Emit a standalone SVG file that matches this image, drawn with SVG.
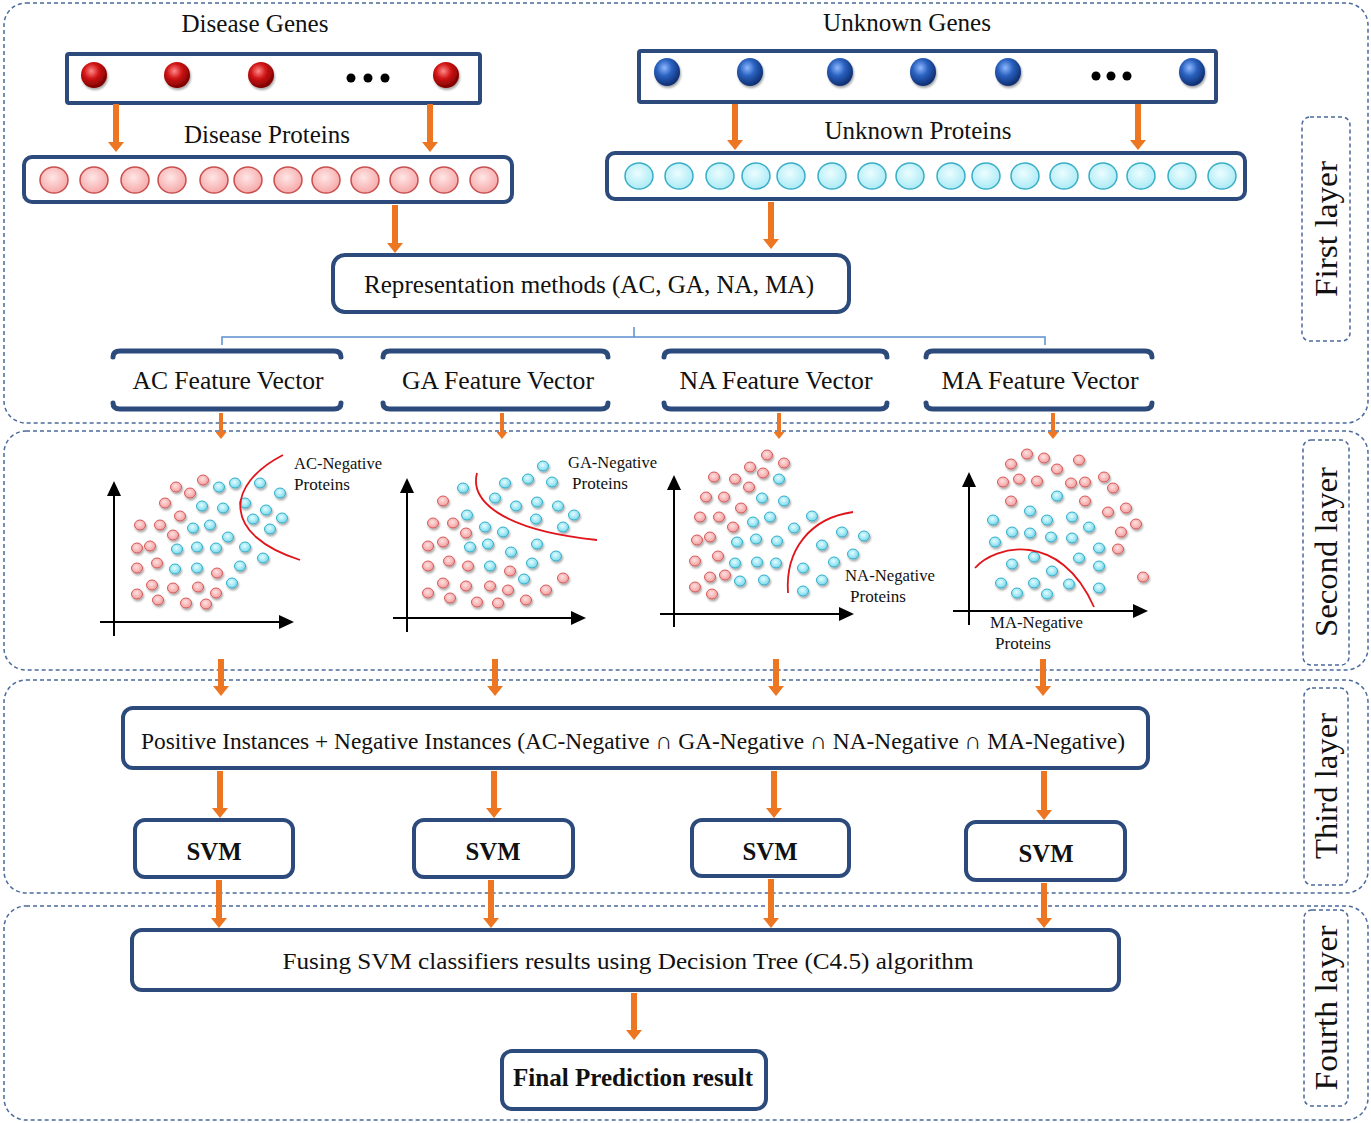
<svg xmlns="http://www.w3.org/2000/svg" width="1371" height="1123" viewBox="0 0 1371 1123">
<style>
text{font-family:"Liberation Serif","Times New Roman",serif;fill:#111}
.lay{fill:none;stroke:#4a6a9c;stroke-width:1.5;stroke-dasharray:4 3}
.box{fill:#fff;stroke:#2c4a7c;stroke-width:4}
.bar{fill:none;stroke:#2c4a7c;stroke-width:5;stroke-linecap:round}
.arr{stroke:#ec7622;stroke-width:6;fill:none}
.arrs{stroke:#ec7622;stroke-width:4;fill:none}
.ax{stroke:#000;stroke-width:2;fill:none}
.r{fill:url(#gr);stroke:#d65a5a;stroke-width:1}
.b{fill:url(#gb);stroke:#33afc9;stroke-width:1}
.pr{fill:url(#gpr);stroke:#c94f4f;stroke-width:1.5}
.pb{fill:url(#gpb);stroke:#3aaec6;stroke-width:1.5}
.cut{fill:none;stroke:#e0151b;stroke-width:1.8}
.lbl{font-size:17px}
.big{font-size:25px}
.fv{font-size:26px}
.bold{font-weight:bold}
.side{font-size:31px}
</style>
<defs>
<radialGradient id="gredball" cx="0.4" cy="0.35" r="0.65"><stop offset="0" stop-color="#ff8a8a"/><stop offset="0.45" stop-color="#d01414"/><stop offset="1" stop-color="#7a0000"/></radialGradient>
<radialGradient id="gblueball" cx="0.4" cy="0.35" r="0.65"><stop offset="0" stop-color="#8fb8ff"/><stop offset="0.45" stop-color="#2a62c0"/><stop offset="1" stop-color="#0e2e70"/></radialGradient>
<radialGradient id="gr" cx="0.45" cy="0.4" r="0.6"><stop offset="0" stop-color="#fde2e2"/><stop offset="1" stop-color="#f39c9c"/></radialGradient>
<radialGradient id="gb" cx="0.45" cy="0.4" r="0.6"><stop offset="0" stop-color="#e6fdff"/><stop offset="1" stop-color="#74d8ec"/></radialGradient>
<radialGradient id="gpr" cx="0.45" cy="0.4" r="0.65"><stop offset="0" stop-color="#ffe6e6"/><stop offset="1" stop-color="#f5a3a3"/></radialGradient>
<radialGradient id="gpb" cx="0.45" cy="0.4" r="0.65"><stop offset="0" stop-color="#ecfdff"/><stop offset="1" stop-color="#a6e9f5"/></radialGradient>
<filter id="sh" x="-50%" y="-50%" width="200%" height="200%"><feDropShadow dx="1" dy="2" stdDeviation="1.2" flood-color="#000" flood-opacity="0.35"/></filter>
<marker id="ah" markerUnits="userSpaceOnUse" markerWidth="10" markerHeight="16" refX="0" refY="8" orient="auto" viewBox="0 0 10 16"><path d="M0 0 L10 8 L0 16 Z" fill="#ec7622"/></marker>
<marker id="ahs" markerUnits="userSpaceOnUse" markerWidth="7" markerHeight="11" refX="0" refY="5.5" orient="auto" viewBox="0 0 7 11"><path d="M0 0 L7 5.5 L0 11 Z" fill="#ec7622"/></marker>
</defs>
<rect width="1371" height="1123" fill="#fff"/>

<g id="layers">
<rect class="lay" x="4" y="3" width="1364" height="420" rx="22"/>
<rect class="lay" x="4" y="431" width="1364" height="239" rx="22"/>
<rect class="lay" x="4" y="680" width="1364" height="213" rx="22"/>
<rect class="lay" x="4" y="906" width="1364" height="214" rx="22"/>
</g>

<g id="layer-labels">
<g id="label-first"><rect class="lay" x="1302" y="117" width="48" height="224" rx="8"/><text class="side" transform="translate(1337 229) rotate(-90)" text-anchor="middle" textLength="136" lengthAdjust="spacingAndGlyphs">First layer</text></g>
<g id="label-second"><rect class="lay" x="1303" y="440" width="46" height="225" rx="8"/><text class="side" transform="translate(1337 552) rotate(-90)" text-anchor="middle" textLength="170" lengthAdjust="spacingAndGlyphs">Second layer</text></g>
<g id="label-third"><rect class="lay" x="1304" y="688" width="44" height="197" rx="8"/><text class="side" transform="translate(1337 786) rotate(-90)" text-anchor="middle" textLength="146" lengthAdjust="spacingAndGlyphs">Third layer</text></g>
<g id="label-fourth"><rect class="lay" x="1304" y="910" width="44" height="196" rx="8"/><text class="side" transform="translate(1337 1008) rotate(-90)" text-anchor="middle" textLength="165" lengthAdjust="spacingAndGlyphs">Fourth layer</text></g>
</g>

<g id="disease-genes">
<text x="255" y="32" text-anchor="middle" class="big" textLength="147" lengthAdjust="spacingAndGlyphs">Disease Genes</text>
<rect class="box" x="67" y="54" width="413" height="49" rx="2"/>
<g filter="url(#sh)" fill="url(#gredball)">
<circle cx="94" cy="75" r="13"/><circle cx="177" cy="75" r="13"/><circle cx="261" cy="75" r="13"/><circle cx="446" cy="75" r="13"/>
</g>
<g fill="#000"><circle cx="351" cy="78" r="4.5"/><circle cx="368" cy="78" r="4.5"/><circle cx="385" cy="78" r="4.5"/></g>
</g>

<g id="disease-proteins">
<text x="267" y="143" text-anchor="middle" class="big" textLength="166" lengthAdjust="spacingAndGlyphs">Disease Proteins</text>
<rect class="box" x="24" y="157" width="488" height="45" rx="8"/>
<g class="pr">
<ellipse cx="54" cy="180" rx="14" ry="13"/><ellipse cx="94" cy="180" rx="14" ry="13"/><ellipse cx="135" cy="180" rx="14" ry="13"/><ellipse cx="172" cy="180" rx="14" ry="13"/><ellipse cx="214" cy="180" rx="14" ry="13"/><ellipse cx="248" cy="180" rx="14" ry="13"/><ellipse cx="288" cy="180" rx="14" ry="13"/><ellipse cx="326" cy="180" rx="14" ry="13"/><ellipse cx="365" cy="180" rx="14" ry="13"/><ellipse cx="404" cy="180" rx="14" ry="13"/><ellipse cx="444" cy="180" rx="14" ry="13"/><ellipse cx="484" cy="180" rx="14" ry="13"/>
</g>
</g>

<g id="unknown-genes">
<text x="907" y="31" text-anchor="middle" class="big" textLength="168" lengthAdjust="spacingAndGlyphs">Unknown Genes</text>
<rect class="box" x="639" y="51" width="577" height="51" rx="2"/>
<g filter="url(#sh)" fill="url(#gblueball)">
<ellipse cx="667" cy="72" rx="13" ry="14"/><ellipse cx="750" cy="72" rx="13" ry="14"/><ellipse cx="840" cy="72" rx="13" ry="14"/><ellipse cx="923" cy="72" rx="13" ry="14"/><ellipse cx="1008" cy="72" rx="13" ry="14"/><ellipse cx="1192" cy="72" rx="13" ry="14"/>
</g>
<g fill="#000"><circle cx="1096" cy="76" r="4.5"/><circle cx="1111" cy="76" r="4.5"/><circle cx="1127" cy="76" r="4.5"/></g>
</g>

<g id="unknown-proteins">
<text x="918" y="139" text-anchor="middle" class="big" textLength="187" lengthAdjust="spacingAndGlyphs">Unknown Proteins</text>
<rect class="box" x="607" y="153" width="638" height="46" rx="8"/>
<g class="pb">
<ellipse cx="639" cy="176" rx="14" ry="13"/><ellipse cx="679" cy="176" rx="14" ry="13"/><ellipse cx="720" cy="176" rx="14" ry="13"/><ellipse cx="756" cy="176" rx="14" ry="13"/><ellipse cx="791" cy="176" rx="14" ry="13"/><ellipse cx="832" cy="176" rx="14" ry="13"/><ellipse cx="872" cy="176" rx="14" ry="13"/><ellipse cx="910" cy="176" rx="14" ry="13"/><ellipse cx="951" cy="176" rx="14" ry="13"/><ellipse cx="986" cy="176" rx="14" ry="13"/><ellipse cx="1025" cy="176" rx="14" ry="13"/><ellipse cx="1064" cy="176" rx="14" ry="13"/><ellipse cx="1103" cy="176" rx="14" ry="13"/><ellipse cx="1141" cy="176" rx="14" ry="13"/><ellipse cx="1182" cy="176" rx="14" ry="13"/><ellipse cx="1222" cy="176" rx="14" ry="13"/>
</g>
</g>

<g id="representation">
<rect class="box" x="333" y="255" width="516" height="57" rx="12"/>
<text x="589" y="293" text-anchor="middle" class="big" textLength="450" lengthAdjust="spacingAndGlyphs">Representation methods (AC, GA, NA, MA)</text>
</g>

<g id="fv-ac"><path class="bar" d="M113 357 Q113 351 120 351 L334 351 Q341 351 341 357"/><path class="bar" d="M113 403 Q113 409 120 409 L334 409 Q341 409 341 403"/><text x="228" y="389" text-anchor="middle" class="fv" textLength="191" lengthAdjust="spacingAndGlyphs">AC Feature Vector</text></g>
<g id="fv-ga"><path class="bar" d="M383 357 Q383 351 390 351 L601 351 Q608 351 608 357"/><path class="bar" d="M383 403 Q383 409 390 409 L601 409 Q608 409 608 403"/><text x="498" y="389" text-anchor="middle" class="fv" textLength="192" lengthAdjust="spacingAndGlyphs">GA Feature Vector</text></g>
<g id="fv-na"><path class="bar" d="M664 357 Q664 351 671 351 L880 351 Q887 351 887 357"/><path class="bar" d="M664 403 Q664 409 671 409 L880 409 Q887 409 887 403"/><text x="776" y="389" text-anchor="middle" class="fv" textLength="193" lengthAdjust="spacingAndGlyphs">NA Feature Vector</text></g>
<g id="fv-ma"><path class="bar" d="M926 357 Q926 351 933 351 L1145 351 Q1152 351 1152 357"/><path class="bar" d="M926 403 Q926 409 933 409 L1145 409 Q1152 409 1152 403"/><text x="1040" y="389" text-anchor="middle" class="fv" textLength="197" lengthAdjust="spacingAndGlyphs">MA Feature Vector</text></g>

<g id="plot-ac">
<g filter="url(#sh)">
<g class="r">
<ellipse cx="203" cy="480" rx="5.5" ry="5"/><ellipse cx="176" cy="487" rx="5.5" ry="5"/><ellipse cx="190" cy="493" rx="5.5" ry="5"/><ellipse cx="165" cy="503" rx="5.5" ry="5"/><ellipse cx="180" cy="516" rx="5.5" ry="5"/><ellipse cx="140" cy="525" rx="5.5" ry="5"/><ellipse cx="160" cy="525" rx="5.5" ry="5"/><ellipse cx="173" cy="535" rx="5.5" ry="5"/><ellipse cx="137" cy="548" rx="5.5" ry="5"/><ellipse cx="150" cy="546" rx="5.5" ry="5"/><ellipse cx="157" cy="563" rx="5.5" ry="5"/><ellipse cx="137" cy="568" rx="5.5" ry="5"/><ellipse cx="152" cy="585" rx="5.5" ry="5"/><ellipse cx="173" cy="588" rx="5.5" ry="5"/><ellipse cx="198" cy="587" rx="5.5" ry="5"/><ellipse cx="217" cy="573" rx="5.5" ry="5"/><ellipse cx="216" cy="593" rx="5.5" ry="5"/><ellipse cx="137" cy="594" rx="5.5" ry="5"/><ellipse cx="158" cy="600" rx="5.5" ry="5"/><ellipse cx="186" cy="603" rx="5.5" ry="5"/><ellipse cx="206" cy="604" rx="5.5" ry="5"/>
</g>
<g class="b">
<ellipse cx="219" cy="487" rx="5.5" ry="5"/><ellipse cx="235" cy="483" rx="5.5" ry="5"/><ellipse cx="260" cy="483" rx="5.5" ry="5"/><ellipse cx="280" cy="493" rx="5.5" ry="5"/><ellipse cx="202" cy="506" rx="5.5" ry="5"/><ellipse cx="223" cy="508" rx="5.5" ry="5"/><ellipse cx="245" cy="503" rx="5.5" ry="5"/><ellipse cx="266" cy="510" rx="5.5" ry="5"/><ellipse cx="282" cy="518" rx="5.5" ry="5"/><ellipse cx="253" cy="519" rx="5.5" ry="5"/><ellipse cx="210" cy="525" rx="5.5" ry="5"/><ellipse cx="193" cy="528" rx="5.5" ry="5"/><ellipse cx="270" cy="529" rx="5.5" ry="5"/><ellipse cx="228" cy="537" rx="5.5" ry="5"/><ellipse cx="177" cy="549" rx="5.5" ry="5"/><ellipse cx="197" cy="547" rx="5.5" ry="5"/><ellipse cx="216" cy="548" rx="5.5" ry="5"/><ellipse cx="245" cy="547" rx="5.5" ry="5"/><ellipse cx="263" cy="558" rx="5.5" ry="5"/><ellipse cx="175" cy="569" rx="5.5" ry="5"/><ellipse cx="197" cy="568" rx="5.5" ry="5"/><ellipse cx="240" cy="566" rx="5.5" ry="5"/><ellipse cx="232" cy="583" rx="5.5" ry="5"/>
</g>
</g>
<path class="cut" d="M283 455 C 225 485, 222 535, 300 560"/>
<path class="ax" d="M114 636 V 494"/><path d="M107 496 L114 481 L121 496 Z"/>
<path class="ax" d="M100 622 H 281"/><path d="M279 615 L294 622 L279 629 Z"/>
<text x="294" y="469" class="lbl" textLength="88" lengthAdjust="spacingAndGlyphs">AC-Negative</text>
<text x="294" y="490" class="lbl" textLength="56" lengthAdjust="spacingAndGlyphs">Proteins</text>
</g>

<g id="plot-ga">
<g filter="url(#sh)">
<g class="r">
<ellipse cx="443" cy="501" rx="5.5" ry="5"/><ellipse cx="433" cy="523" rx="5.5" ry="5"/><ellipse cx="453" cy="523" rx="5.5" ry="5"/><ellipse cx="466" cy="533" rx="5.5" ry="5"/><ellipse cx="428" cy="546" rx="5.5" ry="5"/><ellipse cx="443" cy="542" rx="5.5" ry="5"/><ellipse cx="449" cy="561" rx="5.5" ry="5"/><ellipse cx="468" cy="566" rx="5.5" ry="5"/><ellipse cx="428" cy="566" rx="5.5" ry="5"/><ellipse cx="510" cy="571" rx="5.5" ry="5"/><ellipse cx="443" cy="583" rx="5.5" ry="5"/><ellipse cx="466" cy="586" rx="5.5" ry="5"/><ellipse cx="490" cy="586" rx="5.5" ry="5"/><ellipse cx="508" cy="590" rx="5.5" ry="5"/><ellipse cx="428" cy="593" rx="5.5" ry="5"/><ellipse cx="450" cy="598" rx="5.5" ry="5"/><ellipse cx="477" cy="602" rx="5.5" ry="5"/><ellipse cx="498" cy="603" rx="5.5" ry="5"/><ellipse cx="526" cy="600" rx="5.5" ry="5"/><ellipse cx="546" cy="590" rx="5.5" ry="5"/><ellipse cx="563" cy="578" rx="5.5" ry="5"/>
</g>
<g class="b">
<ellipse cx="543" cy="466" rx="5.5" ry="5"/><ellipse cx="463" cy="488" rx="5.5" ry="5"/><ellipse cx="505" cy="483" rx="5.5" ry="5"/><ellipse cx="528" cy="479" rx="5.5" ry="5"/><ellipse cx="552" cy="482" rx="5.5" ry="5"/><ellipse cx="495" cy="498" rx="5.5" ry="5"/><ellipse cx="516" cy="506" rx="5.5" ry="5"/><ellipse cx="537" cy="502" rx="5.5" ry="5"/><ellipse cx="558" cy="506" rx="5.5" ry="5"/><ellipse cx="574" cy="515" rx="5.5" ry="5"/><ellipse cx="467" cy="515" rx="5.5" ry="5"/><ellipse cx="536" cy="519" rx="5.5" ry="5"/><ellipse cx="485" cy="527" rx="5.5" ry="5"/><ellipse cx="503" cy="532" rx="5.5" ry="5"/><ellipse cx="563" cy="527" rx="5.5" ry="5"/><ellipse cx="470" cy="547" rx="5.5" ry="5"/><ellipse cx="488" cy="544" rx="5.5" ry="5"/><ellipse cx="511" cy="552" rx="5.5" ry="5"/><ellipse cx="537" cy="544" rx="5.5" ry="5"/><ellipse cx="556" cy="556" rx="5.5" ry="5"/><ellipse cx="490" cy="566" rx="5.5" ry="5"/><ellipse cx="532" cy="563" rx="5.5" ry="5"/><ellipse cx="524" cy="579" rx="5.5" ry="5"/>
</g>
</g>
<path class="cut" d="M477 473 C 470 500, 500 530, 597 540"/>
<path class="ax" d="M407 632 V 491"/><path d="M400 493 L407 478 L414 493 Z"/>
<path class="ax" d="M393 618 H 573"/><path d="M571 611 L586 618 L571 625 Z"/>
<text x="568" y="468" class="lbl" textLength="89" lengthAdjust="spacingAndGlyphs">GA-Negative</text>
<text x="572" y="489" class="lbl" textLength="56" lengthAdjust="spacingAndGlyphs">Proteins</text>
</g>

<g id="plot-na">
<g filter="url(#sh)">
<g class="r">
<ellipse cx="767" cy="455" rx="5.5" ry="5"/><ellipse cx="784" cy="463" rx="5.5" ry="5"/><ellipse cx="750" cy="467" rx="5.5" ry="5"/><ellipse cx="763" cy="473" rx="5.5" ry="5"/><ellipse cx="714" cy="477" rx="5.5" ry="5"/><ellipse cx="735" cy="479" rx="5.5" ry="5"/><ellipse cx="749" cy="487" rx="5.5" ry="5"/><ellipse cx="706" cy="497" rx="5.5" ry="5"/><ellipse cx="724" cy="497" rx="5.5" ry="5"/><ellipse cx="741" cy="508" rx="5.5" ry="5"/><ellipse cx="700" cy="517" rx="5.5" ry="5"/><ellipse cx="719" cy="517" rx="5.5" ry="5"/><ellipse cx="733" cy="527" rx="5.5" ry="5"/><ellipse cx="697" cy="540" rx="5.5" ry="5"/><ellipse cx="710" cy="537" rx="5.5" ry="5"/><ellipse cx="718" cy="556" rx="5.5" ry="5"/><ellipse cx="695" cy="561" rx="5.5" ry="5"/><ellipse cx="710" cy="577" rx="5.5" ry="5"/><ellipse cx="725" cy="575" rx="5.5" ry="5"/><ellipse cx="695" cy="587" rx="5.5" ry="5"/><ellipse cx="712" cy="594" rx="5.5" ry="5"/>
</g>
<g class="b">
<ellipse cx="779" cy="479" rx="5.5" ry="5"/><ellipse cx="762" cy="498" rx="5.5" ry="5"/><ellipse cx="784" cy="501" rx="5.5" ry="5"/><ellipse cx="753" cy="522" rx="5.5" ry="5"/><ellipse cx="770" cy="517" rx="5.5" ry="5"/><ellipse cx="812" cy="516" rx="5.5" ry="5"/><ellipse cx="794" cy="528" rx="5.5" ry="5"/><ellipse cx="737" cy="542" rx="5.5" ry="5"/><ellipse cx="756" cy="539" rx="5.5" ry="5"/><ellipse cx="777" cy="541" rx="5.5" ry="5"/><ellipse cx="842" cy="532" rx="5.5" ry="5"/><ellipse cx="864" cy="536" rx="5.5" ry="5"/><ellipse cx="822" cy="545" rx="5.5" ry="5"/><ellipse cx="735" cy="563" rx="5.5" ry="5"/><ellipse cx="757" cy="562" rx="5.5" ry="5"/><ellipse cx="776" cy="563" rx="5.5" ry="5"/><ellipse cx="853" cy="554" rx="5.5" ry="5"/><ellipse cx="834" cy="562" rx="5.5" ry="5"/><ellipse cx="803" cy="568" rx="5.5" ry="5"/><ellipse cx="740" cy="581" rx="5.5" ry="5"/><ellipse cx="764" cy="580" rx="5.5" ry="5"/><ellipse cx="822" cy="580" rx="5.5" ry="5"/><ellipse cx="803" cy="591" rx="5.5" ry="5"/>
</g>
</g>
<path class="cut" d="M788 593 C 785 550, 810 518, 853 512"/>
<path class="ax" d="M674 627 V 488"/><path d="M667 490 L674 475 L681 490 Z"/>
<path class="ax" d="M660 614 H 841"/><path d="M839 607 L854 614 L839 621 Z"/>
<text x="845" y="581" class="lbl" textLength="90" lengthAdjust="spacingAndGlyphs">NA-Negative</text>
<text x="850" y="602" class="lbl" textLength="56" lengthAdjust="spacingAndGlyphs">Proteins</text>
</g>

<g id="plot-ma">
<g filter="url(#sh)">
<g class="r">
<ellipse cx="1027" cy="454" rx="5.5" ry="5"/><ellipse cx="1044" cy="458" rx="5.5" ry="5"/><ellipse cx="1079" cy="460" rx="5.5" ry="5"/><ellipse cx="1011" cy="464" rx="5.5" ry="5"/><ellipse cx="1057" cy="469" rx="5.5" ry="5"/><ellipse cx="1003" cy="482" rx="5.5" ry="5"/><ellipse cx="1019" cy="479" rx="5.5" ry="5"/><ellipse cx="1037" cy="481" rx="5.5" ry="5"/><ellipse cx="1071" cy="483" rx="5.5" ry="5"/><ellipse cx="1085" cy="482" rx="5.5" ry="5"/><ellipse cx="1104" cy="477" rx="5.5" ry="5"/><ellipse cx="1113" cy="488" rx="5.5" ry="5"/><ellipse cx="1011" cy="501" rx="5.5" ry="5"/><ellipse cx="1085" cy="501" rx="5.5" ry="5"/><ellipse cx="1108" cy="512" rx="5.5" ry="5"/><ellipse cx="1126" cy="508" rx="5.5" ry="5"/><ellipse cx="1136" cy="524" rx="5.5" ry="5"/><ellipse cx="1121" cy="532" rx="5.5" ry="5"/><ellipse cx="1118" cy="549" rx="5.5" ry="5"/><ellipse cx="1143" cy="577" rx="5.5" ry="5"/>
</g>
<g class="b">
<ellipse cx="1057" cy="496" rx="5.5" ry="5"/><ellipse cx="1030" cy="511" rx="5.5" ry="5"/><ellipse cx="993" cy="520" rx="5.5" ry="5"/><ellipse cx="1047" cy="520" rx="5.5" ry="5"/><ellipse cx="1072" cy="517" rx="5.5" ry="5"/><ellipse cx="1089" cy="527" rx="5.5" ry="5"/><ellipse cx="1012" cy="532" rx="5.5" ry="5"/><ellipse cx="1030" cy="533" rx="5.5" ry="5"/><ellipse cx="1051" cy="537" rx="5.5" ry="5"/><ellipse cx="1072" cy="538" rx="5.5" ry="5"/><ellipse cx="995" cy="542" rx="5.5" ry="5"/><ellipse cx="1099" cy="548" rx="5.5" ry="5"/><ellipse cx="1034" cy="557" rx="5.5" ry="5"/><ellipse cx="1079" cy="558" rx="5.5" ry="5"/><ellipse cx="1012" cy="564" rx="5.5" ry="5"/><ellipse cx="1099" cy="566" rx="5.5" ry="5"/><ellipse cx="1052" cy="571" rx="5.5" ry="5"/><ellipse cx="1001" cy="583" rx="5.5" ry="5"/><ellipse cx="1034" cy="583" rx="5.5" ry="5"/><ellipse cx="1069" cy="584" rx="5.5" ry="5"/><ellipse cx="1099" cy="588" rx="5.5" ry="5"/><ellipse cx="1017" cy="593" rx="5.5" ry="5"/><ellipse cx="1047" cy="594" rx="5.5" ry="5"/>
</g>
</g>
<path class="cut" d="M975 568 C 995 545, 1060 530, 1094 607"/>
<path class="ax" d="M969 625 V 485"/><path d="M962 487 L969 472 L976 487 Z"/>
<path class="ax" d="M953 611 H 1135"/><path d="M1133 604 L1148 611 L1133 618 Z"/>
<text x="990" y="628" class="lbl" textLength="93" lengthAdjust="spacingAndGlyphs">MA-Negative</text>
<text x="995" y="649" class="lbl" textLength="56" lengthAdjust="spacingAndGlyphs">Proteins</text>
</g>

<g id="instances">
<rect class="box" x="123" y="708" width="1025" height="60" rx="10"/>
<text x="633" y="749" text-anchor="middle" style="font-size:24px" textLength="984" lengthAdjust="spacingAndGlyphs">Positive Instances + Negative Instances (AC-Negative ∩ GA-Negative ∩ NA-Negative ∩ MA-Negative)</text>
</g>

<g id="svm-1"><rect class="box" x="135" y="820" width="158" height="57" rx="10"/><text x="214" y="860" text-anchor="middle" class="big bold" textLength="55" lengthAdjust="spacingAndGlyphs">SVM</text></g>
<g id="svm-2"><rect class="box" x="414" y="820" width="159" height="57" rx="10"/><text x="493" y="860" text-anchor="middle" class="big bold" textLength="55" lengthAdjust="spacingAndGlyphs">SVM</text></g>
<g id="svm-3"><rect class="box" x="692" y="820" width="157" height="56" rx="10"/><text x="770" y="860" text-anchor="middle" class="big bold" textLength="55" lengthAdjust="spacingAndGlyphs">SVM</text></g>
<g id="svm-4"><rect class="box" x="966" y="822" width="159" height="58" rx="10"/><text x="1046" y="862" text-anchor="middle" class="big bold" textLength="55" lengthAdjust="spacingAndGlyphs">SVM</text></g>

<g id="fusing">
<rect class="box" x="132" y="930" width="987" height="60" rx="10"/>
<text x="628" y="969" text-anchor="middle" style="font-size:24px" textLength="691" lengthAdjust="spacingAndGlyphs">Fusing SVM classifiers results using Decision Tree (C4.5) algorithm</text>
</g>

<g id="final">
<rect class="box" x="502" y="1051" width="264" height="58" rx="10"/>
<text x="633" y="1086" text-anchor="middle" class="big bold" textLength="240" lengthAdjust="spacingAndGlyphs">Final Prediction result</text>
</g>

<g id="connectors">
<path d="M222 345 V 337 H 1045 V 345 M634 337 V 327" fill="none" stroke="#5b8fd0" stroke-width="1.5"/>
<line class="arr" x1="116" y1="104" x2="116" y2="142" marker-end="url(#ah)"/>
<line class="arr" x1="430" y1="104" x2="430" y2="142" marker-end="url(#ah)"/>
<line class="arr" x1="735" y1="104" x2="735" y2="140" marker-end="url(#ah)"/>
<line class="arr" x1="1138" y1="104" x2="1138" y2="140" marker-end="url(#ah)"/>
<line class="arr" x1="395" y1="205" x2="395" y2="243" marker-end="url(#ah)"/>
<line class="arr" x1="771" y1="202" x2="771" y2="239" marker-end="url(#ah)"/>
<line class="arrs" x1="221" y1="413" x2="221" y2="432" marker-end="url(#ahs)"/>
<line class="arrs" x1="502" y1="413" x2="502" y2="432" marker-end="url(#ahs)"/>
<line class="arrs" x1="779" y1="413" x2="779" y2="432" marker-end="url(#ahs)"/>
<line class="arrs" x1="1053" y1="413" x2="1053" y2="432" marker-end="url(#ahs)"/>
<line class="arr" x1="221" y1="659" x2="221" y2="686" marker-end="url(#ah)"/>
<line class="arr" x1="495" y1="659" x2="495" y2="686" marker-end="url(#ah)"/>
<line class="arr" x1="776" y1="659" x2="776" y2="686" marker-end="url(#ah)"/>
<line class="arr" x1="1043" y1="659" x2="1043" y2="686" marker-end="url(#ah)"/>
<line class="arr" x1="220" y1="771" x2="220" y2="808" marker-end="url(#ah)"/>
<line class="arr" x1="494" y1="771" x2="494" y2="808" marker-end="url(#ah)"/>
<line class="arr" x1="774" y1="771" x2="774" y2="808" marker-end="url(#ah)"/>
<line class="arr" x1="1044" y1="771" x2="1044" y2="810" marker-end="url(#ah)"/>
<line class="arr" x1="219" y1="880" x2="219" y2="918" marker-end="url(#ah)"/>
<line class="arr" x1="491" y1="880" x2="491" y2="918" marker-end="url(#ah)"/>
<line class="arr" x1="771" y1="879" x2="771" y2="918" marker-end="url(#ah)"/>
<line class="arr" x1="1044" y1="883" x2="1044" y2="918" marker-end="url(#ah)"/>
<line class="arr" x1="634" y1="993" x2="634" y2="1030" marker-end="url(#ah)"/>
</g>
</svg>
